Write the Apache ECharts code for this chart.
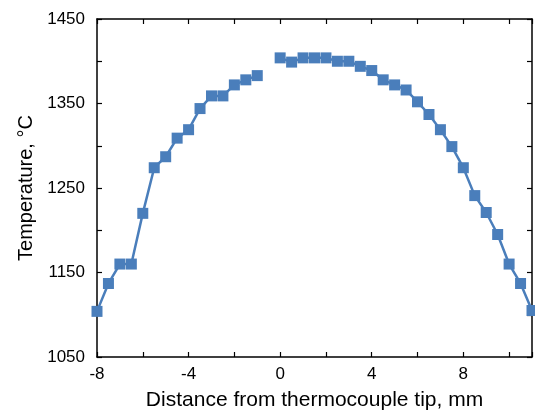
<!DOCTYPE html>
<html>
<head>
<meta charset="utf-8">
<script src="https://cdn.jsdelivr.net/npm/echarts@6/dist/echarts.min.js"></script>
<style>html,body{margin:0;padding:0;background:#fff;}#c{width:535px;height:416px;}</style>
</head>
<body>
<div id="c"></div>
<script>
// Left branch (before thermocouple tip)
const leftX = [-8, -7.5, -7, -6.5, -6, -5.5, -5, -4.5, -4, -3.5, -3, -2.5, -2, -1.5, -1];
const leftT = [1104, 1137, 1160, 1160, 1220, 1274, 1287, 1309, 1319, 1344, 1359, 1359, 1372, 1378, 1383];
// Right branch (from thermocouple tip onwards)
const rightX = [0, 0.5, 1, 1.5, 2, 2.5, 3, 3.5, 4, 4.5, 5, 5.5, 6, 6.5, 7, 7.5, 8, 8.5, 9, 9.5, 10, 10.5, 11];
const rightT = [1404, 1399, 1404, 1404, 1404, 1400, 1400, 1394, 1389, 1378, 1372, 1366, 1352, 1337, 1319, 1299, 1274, 1241, 1221, 1195, 1160, 1137, 1105];
const xTickLabels = [-8, -4, 0, 4, 8];
const yTickLabels = [1050, 1150, 1250, 1350, 1450];

const xTitle = 'Distance from thermocouple tip, mm';
const yTitle = 'Temperature, \u00B0C';

const blue = '#4A7EBB';
const font = 'Liberation Sans, Arial, sans-serif';

function pairs(xs, ys) { return xs.map((x, i) => [x, ys[i]]); }

const axisLineStyle = { show: true, onZero: false, lineStyle: { color: '#000', width: 1.5 } };
const tickStyle = { show: true, inside: true, length: 5, lineStyle: { color: '#000', width: 1.2 } };

const chart = echarts.init(document.getElementById('c'), null, { renderer: 'canvas' });
chart.setOption({
  animation: false,
  backgroundColor: '#fff',
  grid: { left: 97, top: 19, width: 439, height: 343, containLabel: false },
  xAxis: [{
    type: 'value', min: -8, max: 11, interval: 2, position: 'bottom',
    axisLine: axisLineStyle, axisTick: tickStyle, splitLine: { show: false },
    axisLabel: {
      color: '#000', fontFamily: font, fontSize: 17, margin: 9,
      formatter: v => xTickLabels.indexOf(v) >= 0 ? String(v) : ''
    },
    name: xTitle, nameLocation: 'middle', nameGap: 33,
    nameTextStyle: { color: '#000', fontFamily: font, fontSize: 21 }
  }, {
    type: 'value', min: -8, max: 11, interval: 2, position: 'top',
    axisLine: axisLineStyle, axisTick: tickStyle, splitLine: { show: false },
    axisLabel: { show: false }
  }],
  yAxis: [{
    type: 'value', min: 1050, max: 1450, interval: 50, position: 'left',
    axisLine: axisLineStyle, axisTick: tickStyle, splitLine: { show: false },
    axisLabel: {
      color: '#000', fontFamily: font, fontSize: 17, margin: 12,
      formatter: v => yTickLabels.indexOf(v) >= 0 ? String(v) : ''
    },
    name: yTitle, nameLocation: 'middle', nameGap: 59,
    nameTextStyle: { color: '#000', fontFamily: font, fontSize: 20 }
  }, {
    type: 'value', min: 1050, max: 1450, interval: 50, position: 'right',
    axisLine: axisLineStyle, axisTick: tickStyle, splitLine: { show: false },
    axisLabel: { show: false }
  }],
  series: [{
    type: 'line', data: pairs(leftX, leftT), xAxisIndex: 0, yAxisIndex: 0,
    symbol: 'rect', symbolSize: 11, showAllSymbol: true,
    lineStyle: { color: blue, width: 2.5 }, itemStyle: { color: blue },
    clip: false
  }, {
    type: 'line', data: pairs(rightX, rightT), xAxisIndex: 0, yAxisIndex: 0,
    symbol: 'rect', symbolSize: 11, showAllSymbol: true,
    lineStyle: { color: blue, width: 2.5 }, itemStyle: { color: blue },
    clip: false
  }]
});
</script>
</body>
</html>
